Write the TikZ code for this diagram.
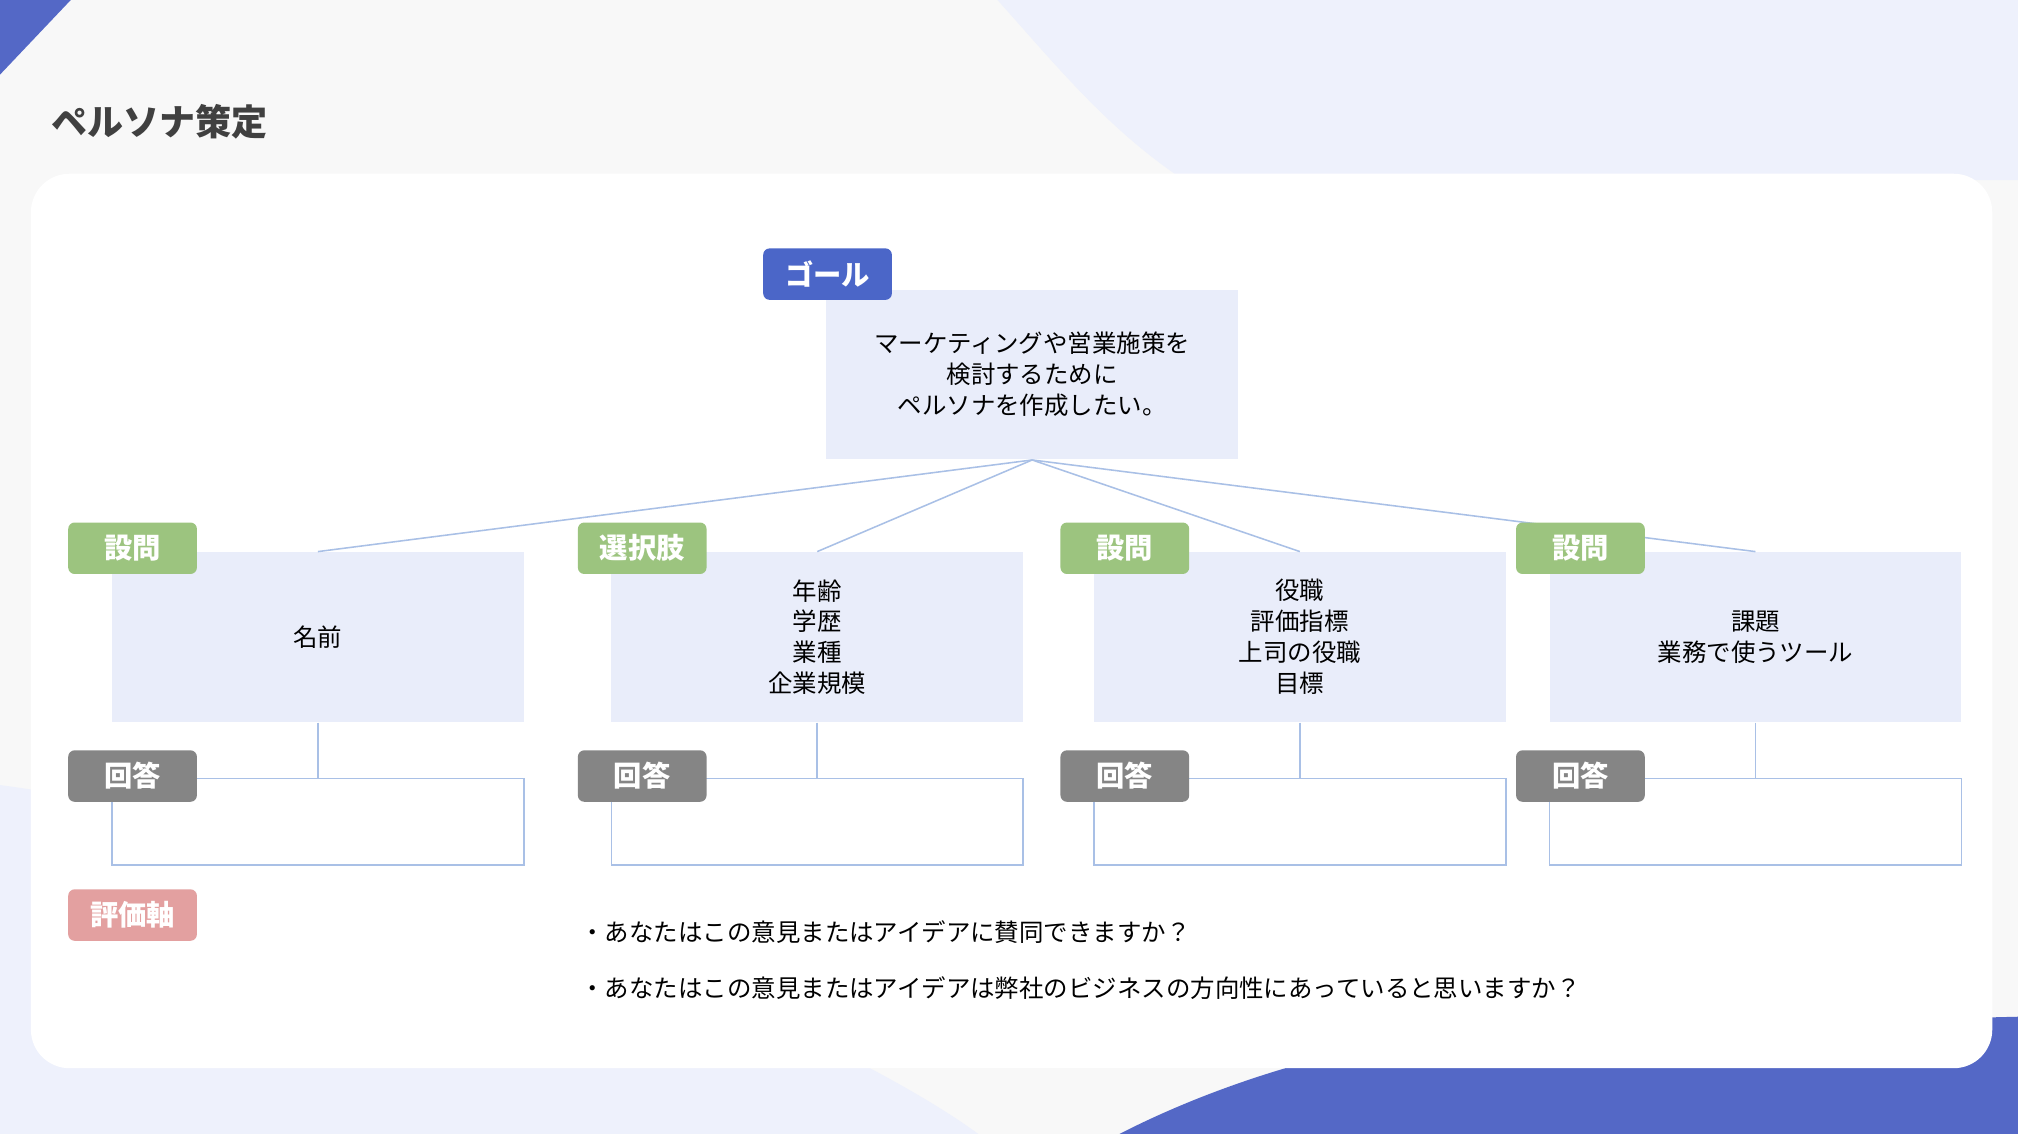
\documentclass[tikz,border=0pt]{standalone}
\usepackage{fontspec}
\setmainfont{Noto Sans CJK JP}
\newfontfamily\jpb[FakeBold=0]{Noto Sans CJK JP Bold}
\begin{document}
\begin{tikzpicture}[x=0.5pt,y=-0.5pt,font=\fontsize{9.5}{12}\selectfont,
  lab/.style={rounded corners=2.5pt,text=white,font=\fontsize{11}{12}\selectfont\bfseries,minimum width=50pt,minimum height=20pt,inner sep=0},
  box/.style={fill=boxbg,minimum width=160pt,minimum height=66pt,align=center,inner sep=0},
  ans/.style={draw=lineblue,line width=0.6pt,minimum width=160pt,minimum height=33.5pt,inner sep=0},
  conn/.style={draw=lineblue,line width=0.6pt}]
\definecolor{bg}{HTML}{F8F8F8}\definecolor{lav}{HTML}{EEF1FC}\definecolor{navy}{HTML}{5468C6}
\definecolor{boxbg}{HTML}{E9EDFA}\definecolor{lineblue}{HTML}{A9C0E6}
\definecolor{gr}{HTML}{9CC47F}\definecolor{gy}{HTML}{858585}\definecolor{pk}{HTML}{E3A0A0}\definecolor{gl}{HTML}{4B66C8}
\useasboundingbox (0,0) rectangle (1568,881);
\fill[bg] (0,0) rectangle (1568,881);
\fill[lav] (775,0) .. controls (820,50) and (860,100) .. (920,140) -- (1568,140) -- (1568,0) -- cycle;
\fill[lav] (0,610) .. controls (300,650) and (650,800) .. (760,881) -- (0,881) -- cycle;
\fill[navy] (0,0) -- (55,0) -- (0,58) -- cycle;
\fill[navy] (870,881) .. controls (950,840) and (1050,810) .. (1150,800) -- (1568,790) -- (1568,881) -- cycle;
\fill[white,rounded corners=15pt] (24,135) rectangle (1548,830);
\node[anchor=west,text=black!75,font=\fontsize{14}{16}\selectfont\bfseries] (title) at (33,95) {ペルソナ策定};
\node[box,minimum height=66pt] (goal) at (802,291) {マーケティングや営業施策を\\検討するために\\ペルソナを作成したい。};
\node[lab,fill=gl] (gl) at (643,213) {ゴール};
\foreach \i/\x/\t/\txt in {1/247/設問/名前, 2/635/選択肢/{年齢\\学歴\\業種\\企業規模}, 3/1010/設問/{役職\\評価指標\\上司の役職\\目標}, 4/1364/設問/{課題\\業務で使うツール}}{
  \node[box] (b\i) at (\x,495) {\txt};
  \node[ans] (a\i) at (\x,638.5) {};
  \draw[conn] (goal.south) -- (b\i.north);
  \draw[conn] (b\i.south) -- (a\i.north);
}
\foreach \i/\x in {1/103,2/499,3/874,4/1228}{
  \node[lab,fill=gr] (q\i) at (\x,426) {\ifnum\i=2 選択肢\else 設問\fi};
  \node[lab,fill=gy] (r\i) at (\x,603) {回答};
}
\node[lab,fill=pk] (ev) at (103,711) {評価軸};
\node[anchor=west] (t1) at (444,724) {・あなたはこの意見またはアイデアに賛同できますか？};
\node[anchor=west] (t2) at (444,768) {・あなたはこの意見またはアイデアは弊社のビジネスの方向性にあっていると思いますか？};
\end{tikzpicture}
\end{document}
